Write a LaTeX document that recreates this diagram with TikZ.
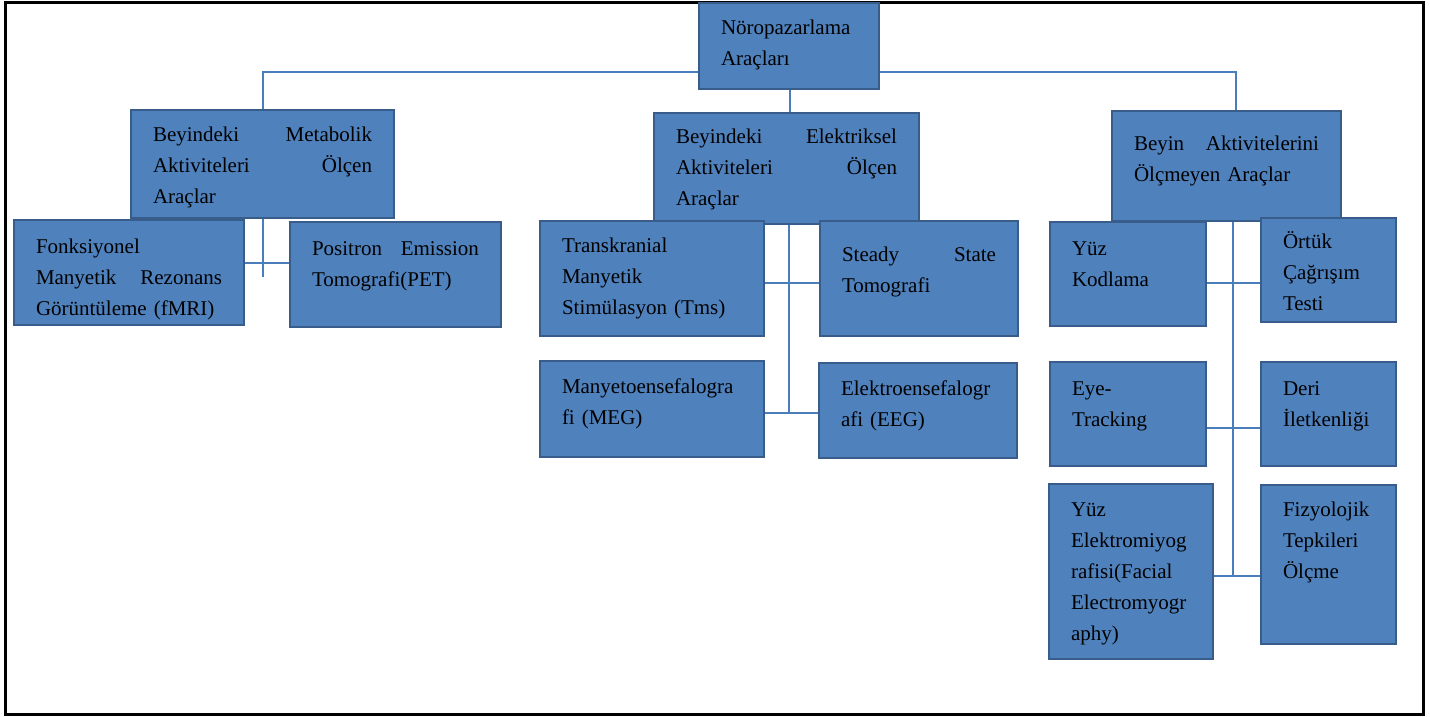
\documentclass[tikz,border=0pt]{standalone}
\usepackage{fontspec}
\setmainfont{Liberation Serif}
\usetikzlibrary{backgrounds}
\definecolor{toolfill}{HTML}{4F81BD}
\definecolor{toolline}{HTML}{385D8A}
\definecolor{linkblue}{HTML}{4A7EBB}
\hyphenpenalty=10000
\begin{document}
\begin{tikzpicture}[x=1pt, y=-1pt,
            tool/.style={draw=toolline, line width=2pt, fill=toolfill,
                anchor=north west, inner xsep=22pt, inner ysep=0pt, align=left,
                font=\fontsize{21}{31}\selectfont},
            link/.style={draw=linkblue, line width=1.2pt}
        ]
            \useasboundingbox (0,0) rectangle (1430,716);

            % frame round the whole figure
            \draw[line width=3pt] (5,2) rectangle (1423,714);

            \node[tool, text width=136pt, text height=31pt, text depth=55pt] (root) at (698,2) {Nöropazarlama\\ Araçları};

            % metabolic branch
            \node[tool, text width=219pt, text height=31pt, text depth=77pt] (met) at (130,109) {Beyindeki\hfill Metabolik\\ Aktiviteleri\hfill Ölçen\\ Araçlar};
            \node[tool, text width=186pt, text height=33pt, text depth=72pt] (fmri) at (13,219) {Fonksiyonel\\ Manyetik\hfill Rezonans\\ Görüntüleme (fMRI)};
            \node[tool, text width=167pt, text height=33pt, text depth=72pt] (pet) at (289,221) {Positron\hfill Emission\\ Tomografi(PET)};

            % electrical branch
            \node[tool, text width=221pt, text height=30pt, text depth=81pt] (elec) at (653,112) {Beyindeki\hfill Elektriksel\\ Aktiviteleri\hfill Ölçen\\ Araçlar};
            \node[tool, text width=180pt, text height=31pt, text depth=84pt] (tms) at (539,220) {Transkranial\\ Manyetik\\ Stimülasyon (Tms)};
            \node[tool, text width=154pt, text height=40pt, text depth=75pt] (ssf) at (819,220) {Steady\hfill State\\ Tomografi};
            \node[tool, text width=180pt, text height=32pt, text depth=64pt] (meg) at (539,360) {Manyetoensefalogra\\ fi (MEG)};
            \node[tool, text width=154pt, text height=32pt, text depth=63pt] (eeg) at (818,362) {Elektroensefalogr\\ afi (EEG)};

            % non-brain branch
            \node[tool, text width=185pt, text height=39pt, text depth=71pt] (nonb) at (1111,110) {Beyin\hfill Aktivitelerini\\ Ölçmeyen Araçlar};
            \node[tool, text width=112pt, text height=33pt, text depth=71pt] (yuz) at (1049,221) {Yüz\\ Kodlama};
            \node[tool, text width=91pt, text height=30pt, text depth=74pt] (ortuk) at (1260,217) {Örtük\\ Çağrışım\\ Testi};
            \node[tool, text width=112pt, text height=33pt, text depth=71pt] (eye) at (1049,361) {Eye-\\ Tracking};
            \node[tool, text width=91pt, text height=33pt, text depth=71pt] (deri) at (1260,361) {Deri\\ İletkenliği};
            \node[tool, text width=120pt, text height=32pt, text depth=143pt] (emg) at (1048,483) {Yüz\\ Elektromiyog\\ rafisi(Facial\\ Electromyogr\\ aphy)};
            \node[tool, text width=91pt, text height=31pt, text depth=128pt] (fizy) at (1260,484) {Fizyolojik\\ Tepkileri\\ Ölçme};

            \coordinate (ltap) at (263,72);
            \coordinate (mtap) at (790,72);
            \coordinate (rtap) at (1236,72);
            \coordinate (g1) at (263,263);
            \coordinate (g1end) at (263,277);
            \coordinate (g2a) at (789,283);
            \coordinate (g2b) at (789,413);
            \coordinate (g3a) at (1233,283);
            \coordinate (g3b) at (1233,428);
            \coordinate (g3c) at (1233,576);

            % connectors - behind the boxes
            \begin{pgfonlayer}{background}
                \draw[link] (met.north -| ltap) -- (ltap) -- (rtap) -- (nonb.north -| rtap);
                \draw[link] (root.south -| mtap) -- (elec.north -| mtap);

                \draw[link] (met.south -| g1) -- (g1end);
                \draw[link] (fmri.east |- g1) -- (pet.west |- g1);

                \draw[link] (elec.south -| g2a) -- (g2b);
                \draw[link] (tms.east |- g2a) -- (ssf.west |- g2a);
                \draw[link] (meg.east |- g2b) -- (eeg.west |- g2b);

                \draw[link] (nonb.south -| g3a) -- (g3c);
                \draw[link] (yuz.east |- g3a) -- (ortuk.west |- g3a);
                \draw[link] (eye.east |- g3b) -- (deri.west |- g3b);
                \draw[link] (emg.east |- g3c) -- (fizy.west |- g3c);
            \end{pgfonlayer}
        \end{tikzpicture}
\end{document}
